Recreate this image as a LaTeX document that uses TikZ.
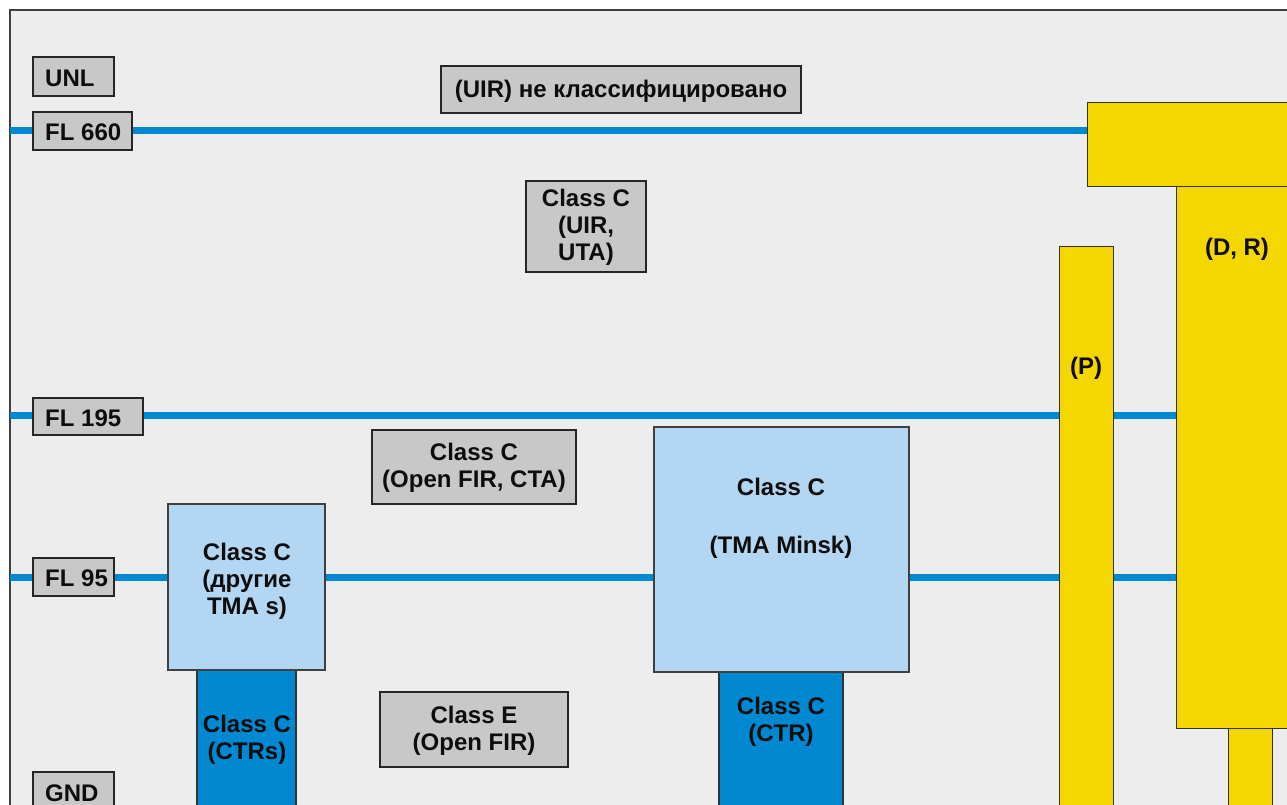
\documentclass[tikz,border=0pt]{standalone}
\usepackage{fontspec}
\setmainfont{Liberation Sans}
\definecolor{bgc}{HTML}{EDEDED}
\definecolor{bordc}{HTML}{404040}
\definecolor{grayc}{HTML}{C8C8C8}
\definecolor{lblue}{HTML}{B3D6F3}
\definecolor{dblue}{HTML}{0088D1}
\definecolor{ylw}{HTML}{F4D700}
\tikzset{
  bx/.style={draw=black!85, line width=1.2pt, anchor=north west, inner sep=0pt, outer sep=0pt, rectangle},
  graybox/.style={bx, fill=grayc},
  lbbox/.style={bx, fill=lblue, draw=black!75},
  dbbox/.style={bx, fill=dblue, draw=black!80},
  ylbox/.style={bx, fill=ylw, draw=black!80, line width=1pt},
  txt/.style={font=\bfseries\fontsize{24}{27}\selectfont, align=center, inner sep=0pt, text=black!95},
  flline/.style={draw=dblue, line width=7pt}
}
\begin{document}
\begin{tikzpicture}[x=1pt,y=-1pt]
\useasboundingbox (0,0) rectangle (1287,805);
\clip (0,0) rectangle (1287,805);
\fill[white] (0,0) rectangle (1287,805);
\draw[fill=bgc, draw=bordc, line width=1.2pt] (10,10) rectangle (1310,830);
% flight level lines
\coordinate (a660) at (10,131); \coordinate (b660) at (1100,131);
\coordinate (a195) at (10,415); \coordinate (b195) at (1200,415);
\coordinate (a95) at (10,577); \coordinate (b95) at (1200,577);
\draw[flline] (a660) -- (b660);
\draw[flline] (a195) -- (b195);
\draw[flline] (a95) -- (b95);
% level labels
\node[graybox, minimum width=81pt, minimum height=39pt] (unl) at (33,57) {};
\node[txt, anchor=west] (unlt) at (45,78) {UNL};
\node[graybox, minimum width=99pt, minimum height=38pt] (fl660) at (33,112) {};
\node[txt, anchor=west] (fl660t) at (45,132.5) {FL 660};
\node[graybox, minimum width=110pt, minimum height=37pt] (fl195) at (33,398) {};
\node[txt, anchor=west] (fl195t) at (45,418) {FL 195};
\node[graybox, minimum width=81pt, minimum height=38pt] (fl95) at (33,558) {};
\node[txt, anchor=west] (fl95t) at (45,578.5) {FL 95};
\node[graybox, minimum width=81pt, minimum height=50pt] (gnd) at (33,772) {};
\node[txt, anchor=west] (gndt) at (45,793.5) {GND};
% airspace boxes
\node[graybox, minimum width=360pt, minimum height=47pt] (uir) at (441,66) {};
\node[txt] (uirt) at (621,91) {(UIR) не классифицировано};
\node[graybox, minimum width=120pt, minimum height=91pt] (uta) at (526,181) {};
\node[txt] (utat) at (586,227) {Class C\\(UIR,\\UTA)};
\node[graybox, minimum width=204pt, minimum height=74pt] (cta) at (372,430) {};
\node[txt] (ctat) at (474,468) {Class C\\(Open FIR, CTA)};
\node[graybox, minimum width=188pt, minimum height=75pt] (cle) at (380,692) {};
\node[txt] (clet) at (474,731) {Class E\\(Open FIR)};
% TMAs and CTRs
\node[dbbox, minimum width=99pt, minimum height=160pt] (ctrs) at (197,669) {};
\node[txt] (ctrst) at (247,740) {Class C\\(CTRs)};
\node[lbbox, minimum width=157pt, minimum height=166pt] (tmas) at (168,504) {};
\node[txt] (tmast) at (247,581) {Class C\\(другие\\TMA s)};
\node[dbbox, minimum width=124pt, minimum height=160pt] (ctr) at (719,671) {};
\node[txt] (ctrt) at (781,722) {Class C\\(CTR)};
\node[lbbox, minimum width=255pt, minimum height=245pt] (tmam) at (654,427) {};
\node[txt] (tmamt) at (781,518) {Class C\\[31pt](TMA Minsk)};
% restricted areas
\node[ylbox, minimum width=54pt, minimum height=600pt] (p) at (1059,246) {};
\node[txt] (pt) at (1086,368) {(P)};
\node[ylbox, minimum width=44pt, minimum height=120pt] (dr2) at (1228,727) {};
\node[ylbox, minimum width=140pt, minimum height=542pt] (dr) at (1176,186) {};
\node[ylbox, minimum width=230pt, minimum height=84pt] (top) at (1087,103) {};
\node[txt] (drt) at (1237,249) {(D, R)};
\end{tikzpicture}
\end{document}
